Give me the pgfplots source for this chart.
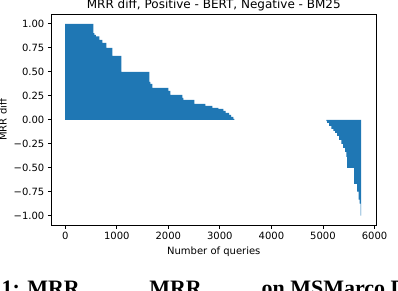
\documentclass[border=0pt]{standalone}
\usepackage{pgfplots}
\pgfplotsset{compat=1.18}
\usepackage{fontspec}
\setmainfont{DejaVu Sans}
\newfontfamily\capfont{Liberation Serif}
\definecolor{c0}{HTML}{1F77B4}
\begin{document}
\begin{tikzpicture}[x=1pt,y=1pt]
\clip (0,0) rectangle (398,290);
\useasboundingbox (0,0) rectangle (398,290);
\begin{axis}[
  at={(51.3pt,64.7pt)}, anchor=south west,
  width=325pt, height=211pt, scale only axis,
  xmin=-270, xmax=6035, ymin=-1.1, ymax=1.1,
  axis line style={line width=0.8pt},
  tick style={line width=0.8pt, black},
  tick align=outside, major tick length=3.5pt,
  xtick pos=left, ytick pos=left,
  xtick={0,1000,2000,3000,4000,5000,6000},
  xticklabels={0,1000,2000,3000,4000,5000,6000},
  ytick={-1,-0.75,-0.5,-0.25,0,0.25,0.5,0.75,1},
  yticklabels={−1.00,−0.75,−0.50,−0.25,0.00,0.25,0.50,0.75,1.00},
  ticklabel style={font=\fontsize{10}{12}\selectfont},
  xlabel={Number of queries},
  ylabel={MRR diff},
  label style={font=\fontsize{10}{12}\selectfont},
  axis on top,
]
\addplot[fill=c0, draw=none, const plot] coordinates {
(0,0) (0,1.0) (548,0.904) (568,0.886) (593,0.869) (665,0.834) (723,0.803)
(800,0.751) (917,0.667) (1091,0.5) (1634,0.396) (1653,0.375) (1692,0.334)
(2002,0.302) (2041,0.261) (2273,0.229) (2293,0.209) (2506,0.167) (2719,0.146)
(2855,0.125) (2971,0.115) (3068,0.094) (3110,0.073) (3180,0.052) (3220,0.031)
(3260,0.010) (3281,0)
} -- cycle;
\addplot[fill=c0, draw=none, const plot] coordinates {
(5064,0) (5064,-0.015) (5083,-0.031) (5122,-0.063) (5161,-0.094) (5200,-0.115)
(5238,-0.136) (5277,-0.167) (5316,-0.209) (5355,-0.25) (5393,-0.292)
(5432,-0.334) (5455,-0.386) (5471,-0.5) (5607,-0.667) (5665,-0.75)
(5690,-0.833) (5709,-0.875) (5729,-1.0) (5742,-1.0) (5742,0)
} -- cycle;
\end{axis}
\node[anchor=base, font=\fontsize{12}{14}\selectfont] at (213.8,281) {MRR diff, Positive - BERT, Negative - BM25};
\node[anchor=base west, inner sep=0pt, font=\capfont\bfseries\fontsize{22}{26}\selectfont] at (-66,-5) {Figure 1: MRR\raisebox{-12pt}{\fontsize{15}{17}\selectfont BERT\hspace{9pt}$-$\hspace{9pt}}MRR\raisebox{-12pt}{\fontsize{15}{17}\selectfont BM25\hspace{15pt}} on MSMarco Dev};
\end{tikzpicture}
\end{document}
